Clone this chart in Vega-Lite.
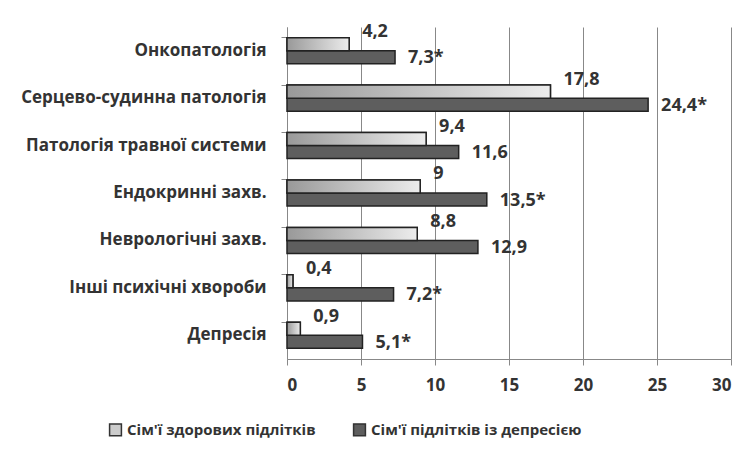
{
  "$schema": "https://vega.github.io/schema/vega-lite/v6.json",
  "autosize": "none",
  "width": 444,
  "height": 332,
  "padding": {"left": 287, "top": 27, "right": 14, "bottom": 94},
  "background": "white",
  "config": {
    "font": "Open Sans",
    "view": {"stroke": null},
    "axis": {"labelFont": "Open Sans", "labelFontWeight": "bold", "labelColor": "#333333", "labelFontSize": 17, "labelLimit": 400}
  },
  "data": {
    "values": [
      {"cat": "Онкопатологія", "group": "Сім'ї здорових підлітків", "value": 4.2, "label": "4,2"},
      {"cat": "Онкопатологія", "group": "Сім'ї підлітків із депресією", "value": 7.3, "label": "7,3*"},
      {"cat": "Серцево-судинна патологія", "group": "Сім'ї здорових підлітків", "value": 17.8, "label": "17,8"},
      {"cat": "Серцево-судинна патологія", "group": "Сім'ї підлітків із депресією", "value": 24.4, "label": "24,4*"},
      {"cat": "Патологія травної системи", "group": "Сім'ї здорових підлітків", "value": 9.4, "label": "9,4"},
      {"cat": "Патологія травної системи", "group": "Сім'ї підлітків із депресією", "value": 11.6, "label": "11,6"},
      {"cat": "Ендокринні захв.", "group": "Сім'ї здорових підлітків", "value": 9, "label": "9"},
      {"cat": "Ендокринні захв.", "group": "Сім'ї підлітків із депресією", "value": 13.5, "label": "13,5*"},
      {"cat": "Неврологічні захв.", "group": "Сім'ї здорових підлітків", "value": 8.8, "label": "8,8"},
      {"cat": "Неврологічні захв.", "group": "Сім'ї підлітків із депресією", "value": 12.9, "label": "12,9"},
      {"cat": "Інші психічні хвороби", "group": "Сім'ї здорових підлітків", "value": 0.4, "label": "0,4"},
      {"cat": "Інші психічні хвороби", "group": "Сім'ї підлітків із депресією", "value": 7.2, "label": "7,2*"},
      {"cat": "Депресія", "group": "Сім'ї здорових підлітків", "value": 0.9, "label": "0,9"},
      {"cat": "Депресія", "group": "Сім'ї підлітків із депресією", "value": 5.1, "label": "5,1*"}
    ]
  },
  "encoding": {
    "y": {
      "field": "cat", "type": "nominal", "sort": null,
      "scale": {"paddingInner": 0.45, "paddingOuter": 0.225},
      "axis": {"title": null, "bandPosition": 0, "tickSize": 6, "tickColor": "#888888", "domainColor": "#888888", "labelPadding": 15, "grid": false}
    },
    "yOffset": {"field": "group", "type": "nominal", "sort": ["Сім'ї здорових підлітків", "Сім'ї підлітків із депресією"]},
    "x": {
      "field": "value", "type": "quantitative",
      "scale": {"domain": [0, 30], "nice": false},
      "axis": {"title": null, "values": [0, 5, 10, 15, 20, 25, 30], "tickSize": 6, "tickColor": "#888888", "domainColor": "#888888", "gridColor": "#888888", "gridOpacity": 1, "labelPadding": 12, "labelFontSize": 17}
    }
  },
  "layer": [
    {
      "mark": {"type": "bar", "stroke": "#222222", "strokeWidth": 1.5},
      "encoding": {
        "color": {
          "field": "group", "type": "nominal",
          "sort": ["Сім'ї здорових підлітків", "Сім'ї підлітків із депресією"],
          "scale": {"range": ["#cccccc", "#5e5e5e"]},
          "legend": {
            "title": null, "orient": "none", "direction": "horizontal", "legendX": -179, "legendY": 395,
            "symbolType": "square", "symbolSize": 140, "symbolStrokeColor": "#333333", "symbolStrokeWidth": 1.5,
            "labelFont": "Open Sans", "labelFontWeight": "bold", "labelFontSize": 15, "labelColor": "#333333", "labelLimit": 400,
            "columnPadding": 34, "symbolOffset": 0, "labelOffset": 4
          }
        }
      }
    },
    {
      "transform": [{"filter": "datum.group === \"Сім'ї здорових підлітків\""}],
      "mark": {
        "type": "bar", "stroke": "#222222", "strokeWidth": 1.5,
        "fill": {"gradient": "linear", "x1": 0, "y1": 0, "x2": 1, "y2": 0,
          "stops": [{"offset": 0, "color": "#999999"}, {"offset": 1, "color": "#ececec"}]}
      }
    },
    {
      "transform": [{"filter": "datum.group === \"Сім'ї здорових підлітків\""}],
      "mark": {"type": "text", "align": "left", "baseline": "middle", "dx": 13, "dy": -12, "font": "Open Sans", "fontWeight": "bold", "fontSize": 18, "color": "#333333"},
      "encoding": {"text": {"field": "label"}}
    },
    {
      "transform": [{"filter": "datum.group !== \"Сім'ї здорових підлітків\""}],
      "mark": {"type": "text", "align": "left", "baseline": "middle", "dx": 13, "dy": 1, "font": "Open Sans", "fontWeight": "bold", "fontSize": 18, "color": "#333333"},
      "encoding": {"text": {"field": "label"}}
    }
  ]
}
